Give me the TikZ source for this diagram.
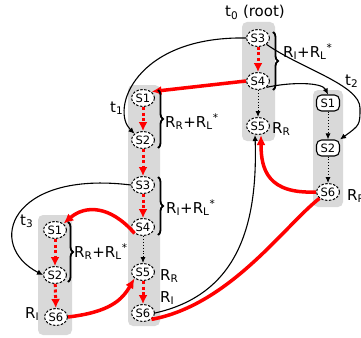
\documentclass[tikz,border=0pt]{standalone}
\usepackage{fontspec}
\setmainfont{DejaVu Sans}
\usetikzlibrary{arrows.meta,positioning,shapes.geometric,decorations.pathreplacing}
\tikzset{
 lane/.style={fill=black!15,rounded corners=5pt},
 state/.style={ellipse,draw,dashed,dash pattern=on 2.5pt off 1.5pt,line width=1pt,fill=white,inner sep=0pt,minimum width=23pt,minimum height=17pt,font=\fontsize{11.5}{12}\selectfont},
 kept/.style={rectangle,rounded corners=5pt,draw,line width=1.1pt,fill=white,inner sep=0pt,minimum width=23pt,minimum height=16pt,font=\fontsize{11.5}{12}\selectfont},
 tag/.style={anchor=base west,inner sep=0pt,font=\fontsize{15}{16}\selectfont},
 redrun/.style={-{Latex[length=9pt,width=9pt]},red,line width=3pt,dash pattern=on 3pt off 2.5pt},
 dotrun/.style={-{Latex[length=6pt,width=5pt]},line width=0.9pt,dotted},
 hop/.style={-{Latex[length=6pt,width=5.5pt]},line width=1.1pt},
 jump/.style={-{Latex[length=10pt,width=9pt]},red,line width=3.5pt},
 grp/.style={decorate,decoration={brace,amplitude=5pt},line width=1.8pt}}
\begin{document}
\begin{tikzpicture}[x=1pt,y=-1pt]
\useasboundingbox (0,0) rectangle (361,337);
\fill[lane] (242,22) rectangle (275,141); \fill[lane] (313,90) rectangle (343,207);
\fill[lane] (128,85) rectangle (160,326); \fill[lane] (38,215) rectangle (72,335);
\node[state] (r3) at (258,38) {S3};
\node[state] (r4) at (258,81) {S4};
\node[state] (r5) at (258,126) {S5};
\node[kept] (b1) at (328,103) {S1};
\node[kept] (b2) at (328,148) {S2};
\node[state] (b6) at (328,192) {S6};
\node[state] (a1) at (143,98) {S1};
\node[state] (a2) at (143,140) {S2};
\node[state] (a3) at (143,185) {S3};
\node[state] (a4) at (143,227) {S4};
\node[state] (a5) at (143,272) {S5};
\node[state] (a6) at (143,313) {S6};
\node[state] (c1) at (55,230) {S1};
\node[state] (c2) at (55,275) {S2};
\node[state] (c6) at (56,317) {S6};
\draw[redrun] (r3)--(r4); \draw[dotrun] (r4)--(r5);
\draw[redrun] (a1)--(a2); \draw[redrun] (a2)--(a3); \draw[redrun] (a3)--(a4); \draw[dotrun] (a4)--(a5); \draw[redrun] (a5)--(a6);
\draw[dotrun] (b1)--(b2); \draw[dotrun] (b2)--(b6);
\draw[redrun] (c1)--(c2); \draw[redrun] (c2)--(c6);
\draw[hop] (r3.west) .. controls (135,36) and (110,110) .. (a2.north west);
\draw[hop] (r3.south east) .. controls (300,68) and (360,85) .. (360,108) .. controls (360,125) .. (b2.north east);
\draw[hop] (r4.south east) .. controls (290,82) and (322,82) .. (b1.north);
\draw[hop] (a3.west) .. controls (10,170) and (-15,245) .. (c2.west);
\draw[hop] (a6.east) .. controls (235,295) and (258,230) .. ([xshift=-3pt]r5.south);
\draw[jump] (r4.west) -- (a1.north east);
\draw[jump] (a4.south west) .. controls (110,205) and (85,205) .. (c1.north east);
\draw[jump] (c6.east) .. controls (110,312) and (122,300) .. (a5.south west);
\draw[jump] (b6.west) .. controls (268,194) and (261,170) .. ([xshift=3pt]r5.south);
\draw[jump,-] (a6.south east) .. controls (230,305) and (285,225) .. (b6.south west);
\draw[grp] (273,32) -- (273,90); \draw[grp] (158,90) -- (158,148);
\draw[grp] (158,177) -- (158,235); \draw[grp] (68,222) -- (68,282);
\node[tag] (rootlbl) at (225,17) {t\textsubscript{0} (root)};
\node[tag] (t1lbl) at (110,112) {t\textsubscript{1}};
\node[tag] (t2lbl) at (345,85) {t\textsubscript{2}};
\node[tag] (t3lbl) at (20,225) {t\textsubscript{3}};
\node[tag] (rootgrp) at (283,57) {R\textsubscript{I}+R\textsubscript{L}\textsuperscript{*}};
\node[tag] (rootrr) at (272,133) {R\textsubscript{R}};
\node[tag] (t2rr) at (347,200) {R\textsubscript{R}};
\node[tag] (t1grpa) at (165,127) {R\textsubscript{R}+R\textsubscript{L}\textsuperscript{*}};
\node[tag] (t1grpb) at (166,213) {R\textsubscript{I}+R\textsubscript{L}\textsuperscript{*}};
\node[tag] (t1rr) at (160,280) {R\textsubscript{R}};
\node[tag] (t1ri) at (160,302) {R\textsubscript{I}};
\node[tag] (t3grp) at (74,257) {R\textsubscript{R}+R\textsubscript{L}\textsuperscript{*}};
\node[tag] (t3ri) at (25,318) {R\textsubscript{I}};
\end{tikzpicture}
\end{document}
